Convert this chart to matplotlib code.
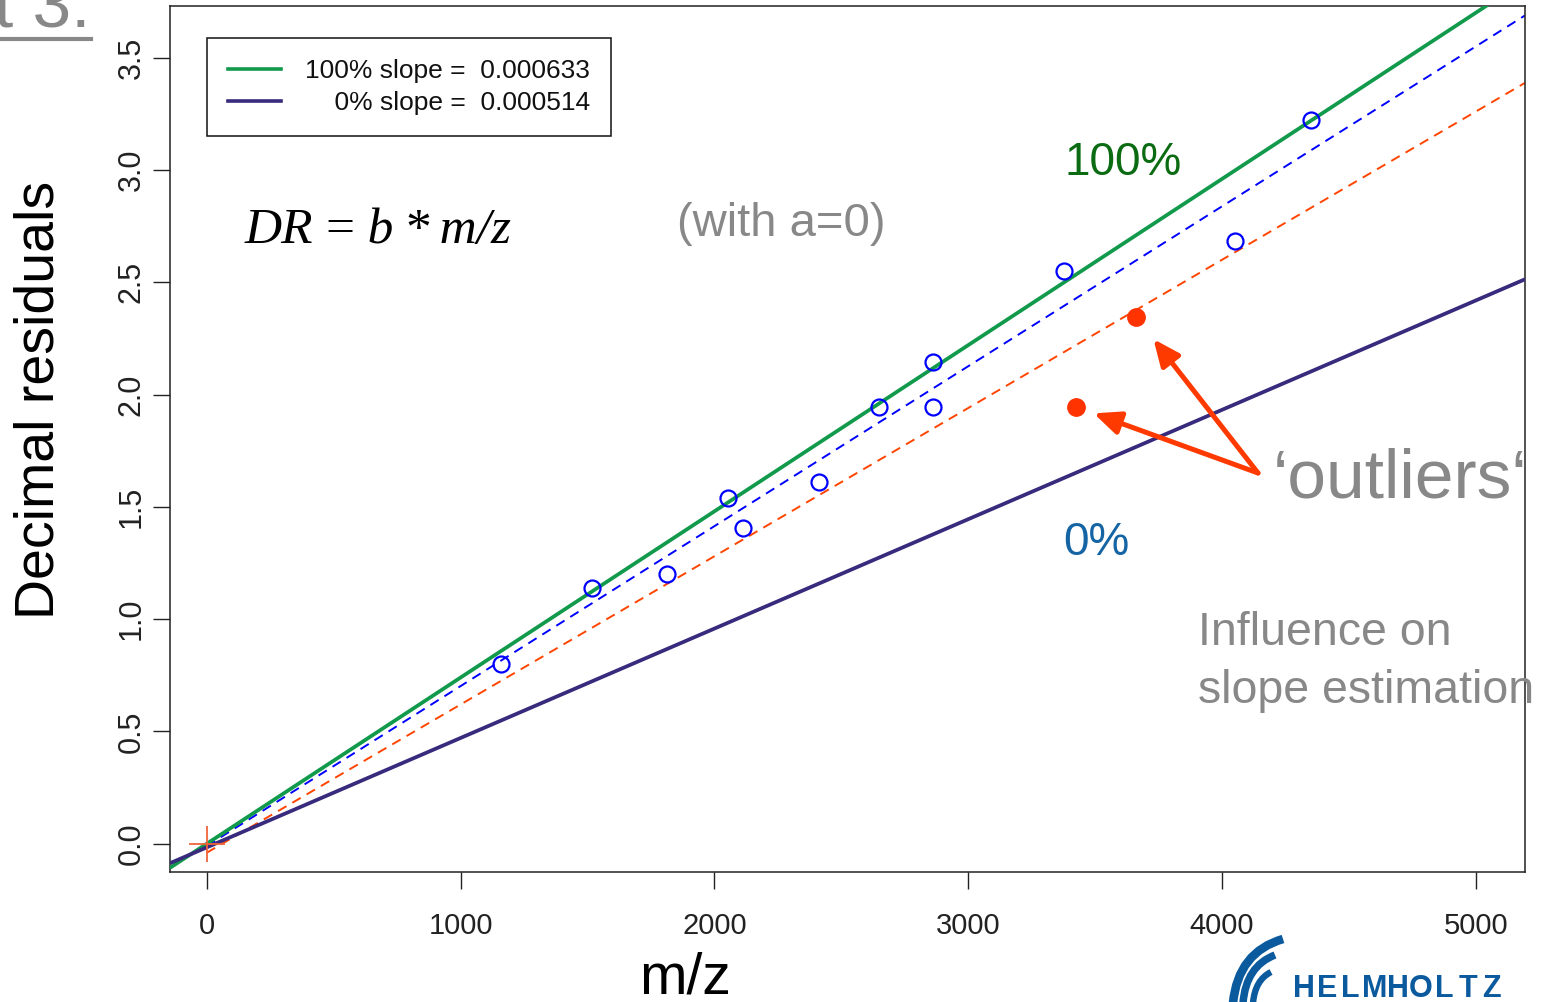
import numpy as np
import matplotlib
matplotlib.use("Agg")
import matplotlib.pyplot as plt
from matplotlib import font_manager
from matplotlib.path import Path
from matplotlib.patches import PathPatch
from matplotlib.lines import Line2D

# ---------------- data ----------------
mz_points = [1158, 1518, 1815, 2054, 2113, 2411, 2650, 2861, 2861, 3377, 4052, 4350]
dr_points = [0.800, 1.138, 1.203, 1.539, 1.406, 1.610, 1.946, 2.146, 1.946, 2.550, 2.684, 3.223]
mz_outliers = [3425, 3661]
dr_outliers = [1.945, 2.347]

# fitted lines (slope, intercept) as drawn
slope_100, icpt_100 = 0.000740, 0.0
slope_0, icpt_0 = 0.000487, -0.016
slope_blue, icpt_blue = 0.000712, -0.010
slope_red, icpt_red = 0.000660, -0.040

legend_labels = ["100% slope =  0.000633", "    0% slope =  0.000514"]
x_ticks = [0, 1000, 2000, 3000, 4000, 5000]
y_ticks = [0.0, 0.5, 1.0, 1.5, 2.0, 2.5, 3.0, 3.5]

XMIN, XMAX = -144.6, 5194
YMIN, YMAX = -0.1256, 3.7315

# ---------------- fonts ----------------
names = {f.name for f in font_manager.fontManager.ttflist}
SANS = "Liberation Sans" if "Liberation Sans" in names else "DejaVu Sans"
NARROW = "Liberation Sans Narrow" if "Liberation Sans Narrow" in names else SANS
SERIF = "Liberation Serif" if "Liberation Serif" in names else "DejaVu Serif"
plt.rcParams["font.family"] = [SANS, "DejaVu Sans"]

GREEN = "#129a4c"
PURPLE = "#382a7c"
GREY = "#888888"
RED = "#ff3a00"

W, H = 1551, 1002
fig = plt.figure(figsize=(W / 100, H / 100), dpi=100)
fig.patch.set_facecolor("white")

ax = fig.add_axes([170 / W, 1 - 872 / H, (1525 - 170) / W, (872 - 5.7) / H])
ax.set_xlim(XMIN, XMAX)
ax.set_ylim(YMIN, YMAX)

xs_full = np.array([XMIN, XMAX])
xs_half = np.array([0, XMAX])

ax.plot(xs_full, slope_100 * xs_full + icpt_100, color=GREEN, lw=2.7, solid_capstyle="butt", zorder=3)
ax.plot(xs_full, slope_0 * xs_full + icpt_0, color=PURPLE, lw=2.7, solid_capstyle="butt", zorder=3)
ax.plot(xs_half, slope_red * xs_half + icpt_red, color="#ff4500", lw=1.4, dashes=(5, 3.5), zorder=2)
ax.plot(xs_half, slope_blue * xs_half + icpt_blue, color="#0000ff", lw=1.4, dashes=(5, 3.5), zorder=2)

ax.plot(mz_points, dr_points, "o", ms=11.5, mfc="none", mec="#0000ff", mew=1.6, zorder=5)
ax.plot(mz_outliers, dr_outliers, "o", ms=12.5, mfc="#ff3300", mec="#ff3300", zorder=5)
ax.plot([0], [0], "+", ms=26, mew=1.3, color="#f0643c", zorder=4)

for s in ax.spines.values():
    s.set_linewidth(1.1)
    s.set_color("#222222")

ax.set_xticks(x_ticks)
ax.set_xticklabels([str(t) for t in x_ticks])
ax.set_yticks(y_ticks)
ax.set_yticklabels([f"{t:.1f}" for t in y_ticks])
ax.tick_params(axis="both", direction="out", length=12, width=1.0, color="#222222")
ax.tick_params(axis="x", pad=16.5)
ax.tick_params(axis="y", pad=5)
for lab in ax.get_xticklabels():
    lab.set_fontfamily(NARROW)
    lab.set_fontsize(24 if NARROW != SANS else 21)
    lab.set_color("#222222")
for lab in ax.get_yticklabels():
    lab.set_fontfamily(SANS)
    lab.set_fontsize(22)
    lab.set_rotation(90)
    lab.set_va("center")
    lab.set_color("#222222")

handles = [Line2D([], [], color=GREEN, lw=2.6), Line2D([], [], color=PURPLE, lw=2.6)]
leg = ax.legend(handles, legend_labels, loc="upper left",
                bbox_to_anchor=(37 / 1355, 1 - 32.3 / 866.3), borderaxespad=0,
                prop={"family": SANS, "size": 19}, handlelength=2.0, handletextpad=0.9,
                borderpad=0.8, labelspacing=0.29, fancybox=False, framealpha=1,
                edgecolor="#111111")
leg.get_frame().set_linewidth(1.1)
for t in leg.get_texts():
    t.set_color("#111111")

# ---------------- pixel overlay for annotations ----------------
ov = fig.add_axes([0, 0, 1, 1], zorder=10)
ov.set_xlim(0, W)
ov.set_ylim(H, 0)
ov.axis("off")
ov.patch.set_alpha(0)

ov.text(1065, 175, "100%", color="#0b6b12", fontsize=33, ha="left", va="baseline")
ov.text(1063, 555, "0%", color="#1565a5", fontsize=33, ha="left", va="baseline")
ov.text(677, 236, "(with a=0)", color=GREY, fontsize=34, ha="left", va="baseline")
ov.text(245, 243, "DR\u2009=\u2009b\u2009*\u2009m/z", family=SERIF, style="italic",
        fontsize=37, color="black", ha="left", va="baseline")
ov.text(1273, 497, "\u2018outliers\u2018", color=GREY, fontsize=50, ha="left", va="baseline")
ov.text(1198, 645, "Influence on", color=GREY, fontsize=33.5, ha="left", va="baseline")
ov.text(1198, 703, "slope estimation", color=GREY, fontsize=33.5, ha="left", va="baseline")

# axis titles
ov.text(40, 400, "Decimal residuals", rotation=90, fontsize=40, color="black",
        ha="center", va="center")
ov.text(685, 993, "m/z", fontsize=41, color="black", ha="center", va="baseline")

# cut-off slide title at the top-left
ov.text(90, 27, "t 3.", fontsize=50, color=GREY, ha="right", va="baseline")
ov.plot([0, 91], [39, 39], color=GREY, lw=3)

# arrows from the 'outliers' label to the two outlier points
tail = (1258, 473)
shrinks = [13.5, 20.5]
for mx, my, sh in zip(mz_outliers, dr_outliers, shrinks):
    ax.annotate("", xy=(mx, my), xycoords="data", xytext=tail, textcoords=ov.transData,
                arrowprops=dict(arrowstyle="-|>,head_length=0.8,head_width=0.35",
                                mutation_scale=20, lw=3.6, color=RED,
                                shrinkA=0, shrinkB=sh),
                annotation_clip=False, zorder=6)

# Helmholtz logo
LOGO = "#0b5a9e"
for (p0, c, p1, lw) in [((1233, 1003), (1238, 952), (1283, 939), 6.2),
                        ((1243, 1003), (1246, 966), (1275, 955), 5.4),
                        ((1253, 1003), (1255, 980), (1271, 972), 4.6)]:
    path = Path([p0, c, p1], [Path.MOVETO, Path.CURVE3, Path.CURVE3])
    ov.add_patch(PathPatch(path, fill=False, edgecolor=LOGO, lw=lw, capstyle="butt"))
letters = "HELMHOLTZ"
for i, ch in enumerate(letters):
    ov.text(1304 + i * 23.4, 997, ch, color=LOGO, fontsize=22, fontweight="bold",
            family=NARROW, ha="center", va="baseline")

fig.savefig("out.png", dpi=100, facecolor="white")
